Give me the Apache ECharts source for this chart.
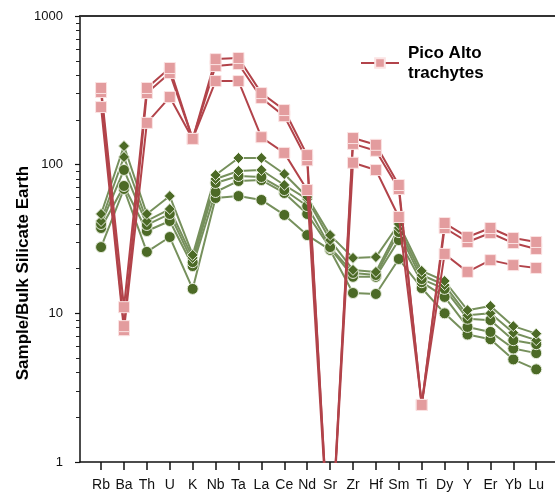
<!DOCTYPE html>
<html>
<head>
<meta charset="utf-8">
<script src="https://cdn.jsdelivr.net/npm/echarts@6/dist/echarts.min.js"></script>
<style>
  html, body { margin: 0; padding: 0; background: #fff; }
  #chart { width: 555px; height: 497px; }
</style>
</head>
<body>
<div id="chart"></div>
<script>
// Trace elements, ordered for the spider diagram
const elements = ['Rb','Ba','Th','U','K','Nb','Ta','La','Ce','Nd','Sr','Zr','Hf','Sm','Ti','Dy','Y','Er','Yb','Lu'];

// Minor tick positions between the log decades
const yMinor = [2,3,4,5,6,7,8,9, 20,30,40,50,60,70,80,90, 200,300,400,500,600,700,800,900];

// Pico Alto trachytes (normalised to Bulk Silicate Earth)
const trachyte1 = [328, 11.0, 328, 447, 149, 513, 522, 303, 233, 116, 0.2, 151, 136, 73.0, 2.42, 40.5, 32.6, 37.5, 32.1, 30.2];
const trachyte2 = [308, 8.2, 303, 413, 149, 461, 475, 281, 212, 107, 0.2, 138, 124, 68.6, 2.42, 37.5, 30.2, 34.7, 29.7, 27.1];
const trachyte3 = [244, 7.7, 191, 285, 149, 365, 365, 153, 120, 67.5, 0.2, 103, 92.0, 44.5, 2.42, 25.1, 19.0, 22.8, 21.1, 20.2];

// Other samples (diamond and circle symbols)
const basaltD1 = [46.6, 133.5, 46.6, 61.5, 24.7, 85.2, 110.9, 110.9, 86.5, 60.6, 33.6, 23.6, 23.9, 39.9, 19.3, 16.5, 10.5, 11.2, 8.2, 7.3];
const basaltD2 = [41.8, 112.6, 41.8, 50.3, 23.6, 80.1, 90.6, 92.1, 73.0, 58.7, 31.1, 19.6, 19.0, 37.5, 18.1, 15.5, 9.7, 10.0, 7.4, 6.6];
const basaltC1 = [39.9, 92.1, 39.3, 46.6, 22.1, 75.3, 83.9, 82.6, 67.5, 52.7, 27.9, 18.7, 18.1, 35.2, 17.0, 14.6, 9.2, 9.0, 6.6, 6.2];
const basaltC2 = [37.5, 71.9, 35.8, 41.8, 20.8, 65.5, 77.7, 78.8, 64.5, 46.6, 27.5, 17.6, 17.6, 31.1, 16.2, 12.9, 8.1, 7.5, 5.8, 5.4];
const basaltC3 = [27.9, 68.6, 25.9, 32.6, 14.6, 59.7, 61.5, 57.9, 45.9, 33.6, 26.7, 13.7, 13.5, 23.2, 14.8, 10.0, 7.2, 6.7, 4.9, 4.2];

const FONT = '"Liberation Sans", Arial, sans-serif';
const idx = elements.map((_, i) => i);
const toPairs = arr => arr.map((v, i) => [i, v]);

function greenSeries(data, symbol) {
  return {
    type: 'line',
    xAxisIndex: 0, yAxisIndex: 0,
    data: toPairs(data),
    symbol: symbol,
    symbolSize: 11,
    lineStyle: { color: '#76905c', width: 2 },
    itemStyle: { color: '#4c6a26', borderColor: '#e6ecdc', borderWidth: 1 },
    z: 2
  };
}
function pinkSeries(data) {
  return {
    name: 'Pico Alto trachytes',
    type: 'line',
    xAxisIndex: 0, yAxisIndex: 0,
    data: toPairs(data),
    symbol: 'rect',
    symbolSize: 11,
    lineStyle: { color: '#b2434a', width: 2 },
    itemStyle: { color: '#e39c9e', borderColor: '#fbe3e3', borderWidth: 1 },
    z: 3
  };
}

const chart = echarts.init(document.getElementById('chart'));
chart.setOption({
  animation: false,
  backgroundColor: '#fff',
  textStyle: { fontFamily: FONT },
  // Main plot grid, plus an identical helper grid that only carries the minor y ticks
  grid: [
    { left: 80, right: 0, top: 16, bottom: 35, containLabel: false },
    { left: 80, right: 0, top: 16, bottom: 35, containLabel: false }
  ],
  legend: {
    data: ['Pico Alto trachytes'],
    left: 355, top: 38,
    itemWidth: 38, itemHeight: 12,
    formatter: () => 'Pico Alto\ntrachytes',
    textStyle: { fontFamily: FONT, fontSize: 17, fontWeight: 'bold', color: '#000', lineHeight: 20, padding: [0, 0, 0, 4] }
  },
  xAxis: [{
    gridIndex: 0, type: 'value', min: -0.92, max: 19.82,
    axisLine: { show: true, onZero: false, lineStyle: { color: '#111', width: 1.5 } },
    axisTick: { show: true, length: 8, customValues: idx, lineStyle: { color: '#111', width: 1.5 } },
    axisLabel: { customValues: idx, formatter: v => elements[Math.round(v)] || '', fontSize: 14, color: '#111', margin: 16, fontFamily: FONT },
    splitLine: { show: false }
  }, {
    gridIndex: 0, type: 'value', min: -0.92, max: 19.82, position: 'top',
    axisLine: { show: true, onZero: false, lineStyle: { color: '#333', width: 2 } },
    axisTick: { show: false }, axisLabel: { show: false }, splitLine: { show: false }
  }, {
    gridIndex: 1, type: 'value', min: 0, max: 1, show: false
  }],
  yAxis: [{
    gridIndex: 0, type: 'log', logBase: 10, min: 1, max: 1000, position: 'left',
    axisLine: { show: true, onZero: false, lineStyle: { color: '#111', width: 1.5 } },
    axisTick: { show: true, length: 5, lineStyle: { color: '#111', width: 1.2 } },
    axisLabel: { formatter: v => String(v), fontSize: 13, color: '#111', margin: 17, fontFamily: FONT },
    splitLine: { show: false }
  }, {
    // minor ticks placed in log10 space on a linear axis spanning 1..1000
    gridIndex: 1, type: 'value', min: 0, max: 3, position: 'left',
    axisLine: { show: false, onZero: false },
    axisTick: { show: true, length: 4, customValues: yMinor.map(Math.log10), lineStyle: { color: '#222', width: 1 } },
    axisLabel: { show: false }, splitLine: { show: false }
  }],
  graphic: [{
    type: 'text',
    x: 23, y: 273,
    rotation: Math.PI / 2,
    style: {
      text: 'Sample/Bulk Silicate Earth',
      font: 'bold 17px ' + FONT,
      fill: '#000',
      align: 'center',
      verticalAlign: 'middle'
    }
  }],
  series: [
    greenSeries(basaltC3, 'circle'),
    greenSeries(basaltC2, 'circle'),
    greenSeries(basaltC1, 'circle'),
    greenSeries(basaltD2, 'diamond'),
    greenSeries(basaltD1, 'diamond'),
    pinkSeries(trachyte3),
    pinkSeries(trachyte2),
    pinkSeries(trachyte1)
  ]
});
</script>
</body>
</html>
